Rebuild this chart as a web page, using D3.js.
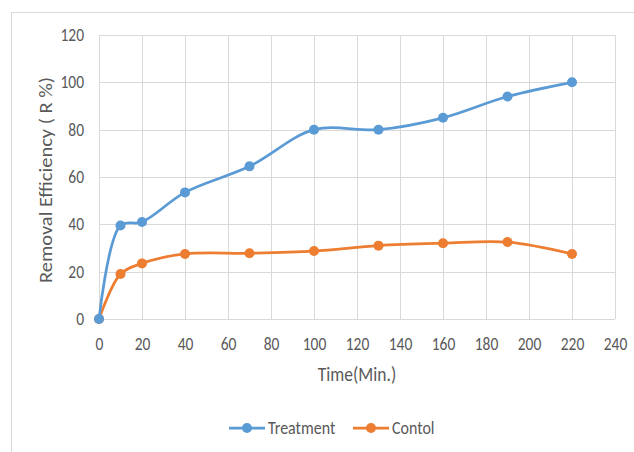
<!DOCTYPE html>
<html>
<head>
<meta charset="utf-8">
<script src="https://cdn.jsdelivr.net/npm/d3@7"></script>
<style>
  html, body { margin: 0; padding: 0; background: #fff; }
  svg { display: block; }
  text { font-family: Carlito, Lato, "Open Sans", sans-serif; fill: #595959; }
</style>
</head>
<body>
<svg id="chart" width="634" height="452"></svg>
<script>
// Sampling times (minutes)
const times = [0, 10, 20, 40, 70, 100, 130, 160, 190, 220];
// Removal efficiency (R %) per series
const treatment = [0, 39.5, 41, 53.5, 64.5, 80, 80, 85, 94, 100];
const control = [0, 19, 23.5, 27.5, 27.8, 28.7, 31, 32, 32.5, 27.5];
const seriesNames = ["Treatment", "Contol"];
const seriesColors = ["#5B9BD5", "#ED7D31"];
const xTicks = [0, 20, 40, 60, 80, 100, 120, 140, 160, 180, 200, 220, 240];
const yTicks = [0, 20, 40, 60, 80, 100, 120];
const xTitle = "Time(Min.)";
const yTitle = "Removal Efficiency ( R %)";

const svg = d3.select("#chart");
const W = 634, H = 452;
const plot = { left: 99, right: 615, top: 35, bottom: 319 };
const stretch = 1.12; // text is drawn slightly taller than wide

// Outer chart frame (only top and left edges fall inside the view)
svg.append("rect")
  .attr("x", 11.5).attr("y", 12.5)
  .attr("width", W + 20).attr("height", H + 20)
  .attr("fill", "none").attr("stroke", "#D9D9D9").attr("stroke-width", 1);

const x = d3.scaleLinear().domain([0, 240]).range([plot.left, plot.right]);
const y = d3.scaleLinear().domain([0, 120]).range([plot.bottom, plot.top]);

// Gridlines
const grid = svg.append("g");
grid.selectAll("line.v").data(xTicks).join("line")
  .attr("x1", d => Math.round(x(d)) + 0.5).attr("x2", d => Math.round(x(d)) + 0.5)
  .attr("y1", plot.top).attr("y2", plot.bottom)
  .attr("stroke", "#D9D9D9").attr("stroke-width", 1);
grid.selectAll("line.h").data(yTicks).join("line")
  .attr("y1", d => Math.round(y(d)) + 0.5).attr("y2", d => Math.round(y(d)) + 0.5)
  .attr("x1", plot.left).attr("x2", plot.right)
  .attr("stroke", "#D9D9D9").attr("stroke-width", 1);

// Axes (labels only; lines come from the grid)
const xAxis = svg.append("g")
  .attr("transform", `translate(0,${plot.bottom})`)
  .call(d3.axisBottom(x).tickValues(xTicks).tickSize(0).tickPadding(19));
const yAxis = svg.append("g")
  .attr("transform", `translate(${plot.left},0)`)
  .call(d3.axisLeft(y).tickValues(yTicks).tickSize(0).tickPadding(15));
[xAxis, yAxis].forEach(g => {
  g.select(".domain").remove();
  g.selectAll("text").style("font-size", "15.5px").attr("fill", "#595959");
});
// Give tick labels the same slight vertical stretch around their own position
xAxis.selectAll(".tick text").attr("transform", function () {
  return `translate(0,${19}) scale(1,${stretch}) translate(0,${-19})`;
});
yAxis.selectAll(".tick text").attr("transform", `scale(1,${stretch})`);

// Axis titles
svg.append("text")
  .attr("transform", `translate(${x(120)},381) scale(1,${stretch})`)
  .attr("text-anchor", "middle")
  .style("font-size", "17.5px")
  .text(xTitle);
svg.append("text")
  .attr("transform", `translate(52,${y(60) + 3}) rotate(-90) scale(1.17,1)`)
  .attr("text-anchor", "middle")
  .style("font-size", "17.5px")
  .text(yTitle);

// Series
const series = [treatment, control].map((vals, i) => ({
  name: seriesNames[i], color: seriesColors[i],
  pts: times.map((t, j) => [t, vals[j]])
}));
const line = d3.line().x(d => x(d[0])).y(d => y(d[1])).curve(d3.curveCatmullRom.alpha(0.5));

// Draw control first so treatment sits on top
series.slice().reverse().forEach(s => {
  const g = svg.append("g");
  g.append("path").attr("d", line(s.pts))
    .attr("fill", "none").attr("stroke", s.color).attr("stroke-width", 2.75)
    .attr("stroke-linecap", "round");
  g.selectAll("circle").data(s.pts).join("circle")
    .attr("cx", d => x(d[0])).attr("cy", d => y(d[1])).attr("r", 5)
    .attr("fill", s.color);
});

// Legend
const legendY = 428;
const legendX = [229, 353];
series.forEach((s, i) => {
  const g = svg.append("g").attr("transform", `translate(${legendX[i]},${legendY})`);
  g.append("line").attr("x1", 0).attr("x2", 36).attr("y1", 0).attr("y2", 0)
    .attr("stroke", s.color).attr("stroke-width", 2.75);
  g.append("circle").attr("cx", 18).attr("cy", 0).attr("r", 5).attr("fill", s.color);
  g.append("text").attr("transform", `translate(39,0) scale(1,${stretch})`)
    .attr("dy", "0.35em")
    .style("font-size", "16px").text(s.name);
});
</script>
</body>
</html>
